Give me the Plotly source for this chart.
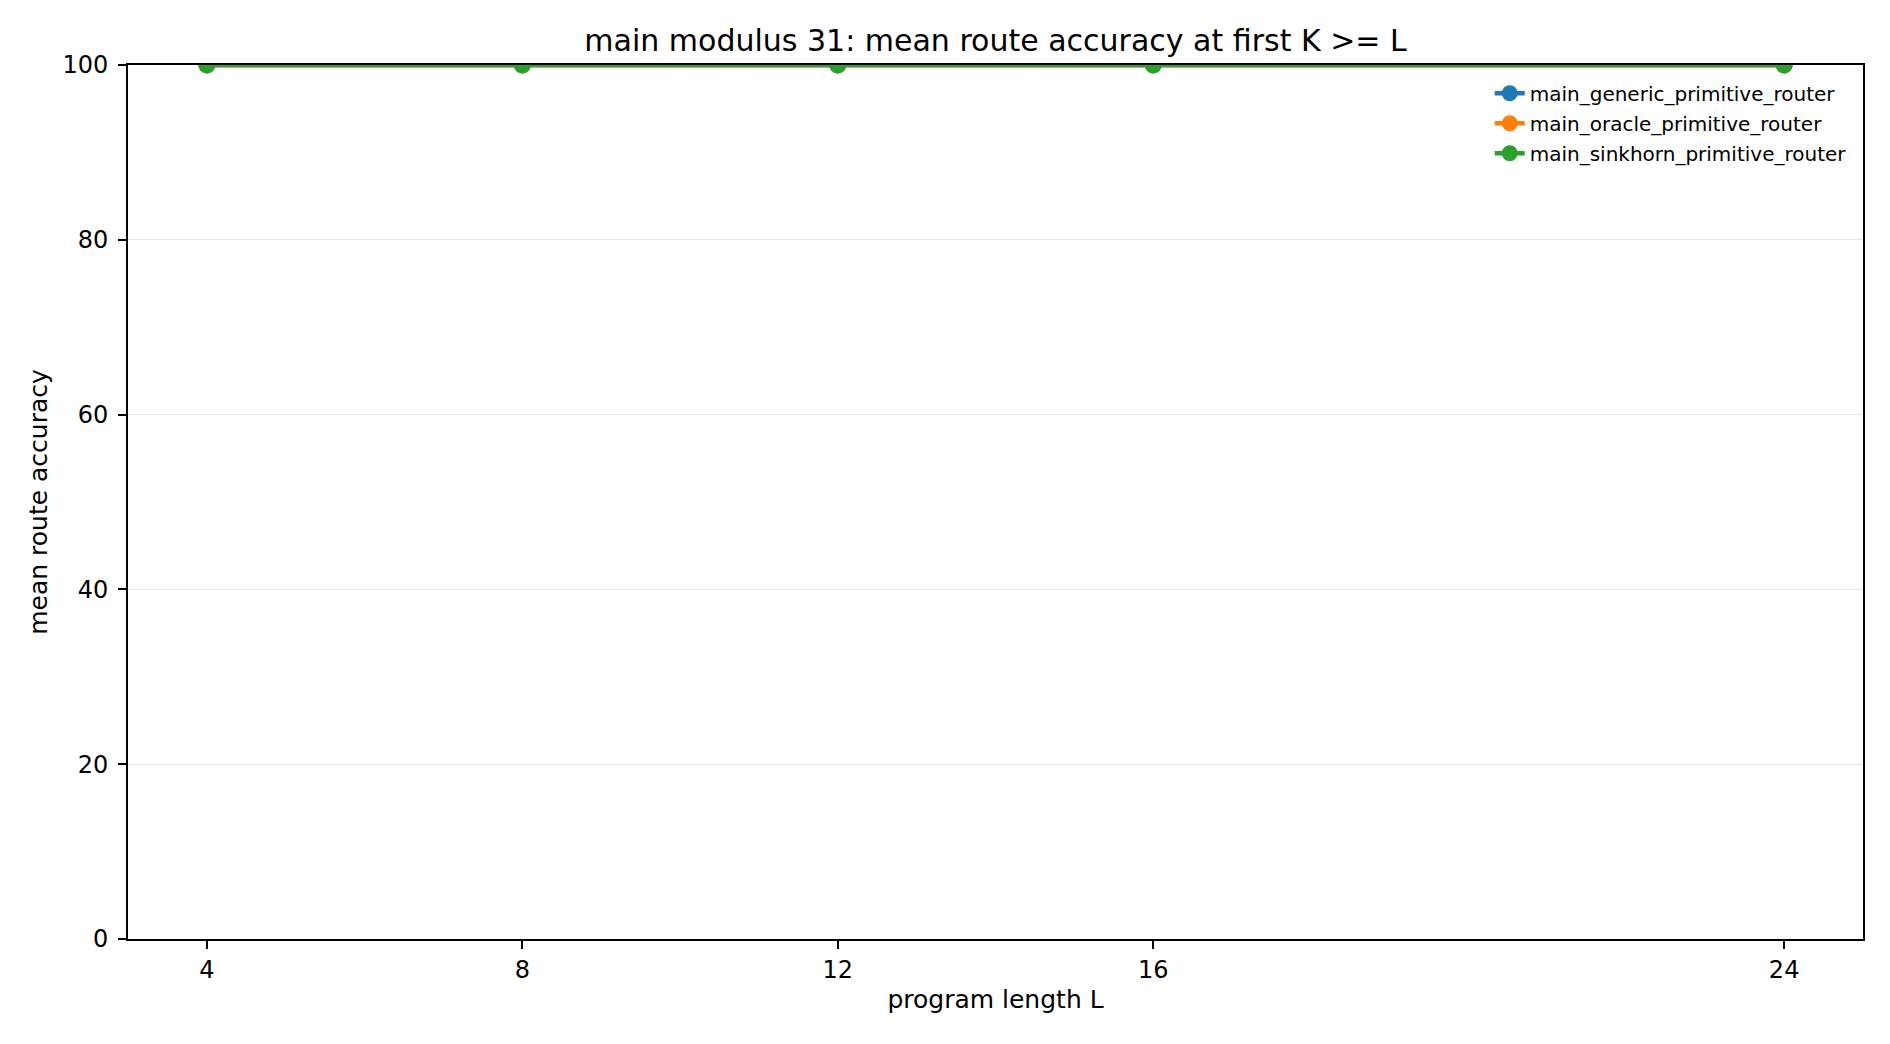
import plotly.graph_objects as go

# program lengths L and mean route accuracy per router
program_length = [4, 8, 12, 16, 24]
generic_acc = [100, 100, 100, 100, 100]
oracle_acc = [100, 100, 100, 100, 100]
sinkhorn_acc = [100, 100, 100, 100, 100]

series = [
    ("main_generic_primitive_router", generic_acc, "#1f77b4"),
    ("main_oracle_primitive_router", oracle_acc, "#ff7f0e"),
    ("main_sinkhorn_primitive_router", sinkhorn_acc, "#2ca02c"),
]

fig = go.Figure()
for name, vals, col in series:
    fig.add_trace(go.Scatter(
        x=program_length, y=vals, name=name, mode="lines+markers",
        legendgroup=name,
        line=dict(color=col, width=4.5),
        marker=dict(color=col, size=17),
    ))

axis_common = dict(
    showline=True, linecolor="black", linewidth=2, mirror=True,
    ticks="outside", ticklen=8, tickwidth=2, tickcolor="black",
    tickfont=dict(size=24, color="black"), zeroline=False,
)

fig.update_xaxes(
    range=[3, 25], tickvals=program_length, showgrid=False,
    title=dict(text="program length L", font=dict(size=25, color="black"), standoff=8),
    **axis_common,
)
fig.update_yaxes(
    range=[0, 100], tickvals=[0, 20, 40, 60, 80, 100],
    showgrid=True, gridcolor="#e5e5e5", gridwidth=1.2, ticklabelstandoff=5,
    title=dict(text="mean route accuracy", font=dict(size=25, color="black"), standoff=8),
    **axis_common,
)

fig.update_layout(
    width=1890, height=1044,
    margin=dict(l=120, r=35, t=57, b=113),
    paper_bgcolor="white", plot_bgcolor="white",
    font=dict(family="DejaVu Sans", color="black"),
    title=dict(text="main modulus 31: mean route accuracy at first K >= L",
               x=(120 + 1855) / 2 / 1890, xanchor="center", y=1 - 32 / 1044, yanchor="middle",
               font=dict(size=30, color="black")),
    legend=dict(x=0.9935, xanchor="right", y=0.99, yanchor="top",
                bgcolor="rgba(0,0,0,0)", font=dict(size=20, color="black"),
                traceorder="grouped", tracegroupgap=1),
    showlegend=True,
)

fig.write_html("out.html")
